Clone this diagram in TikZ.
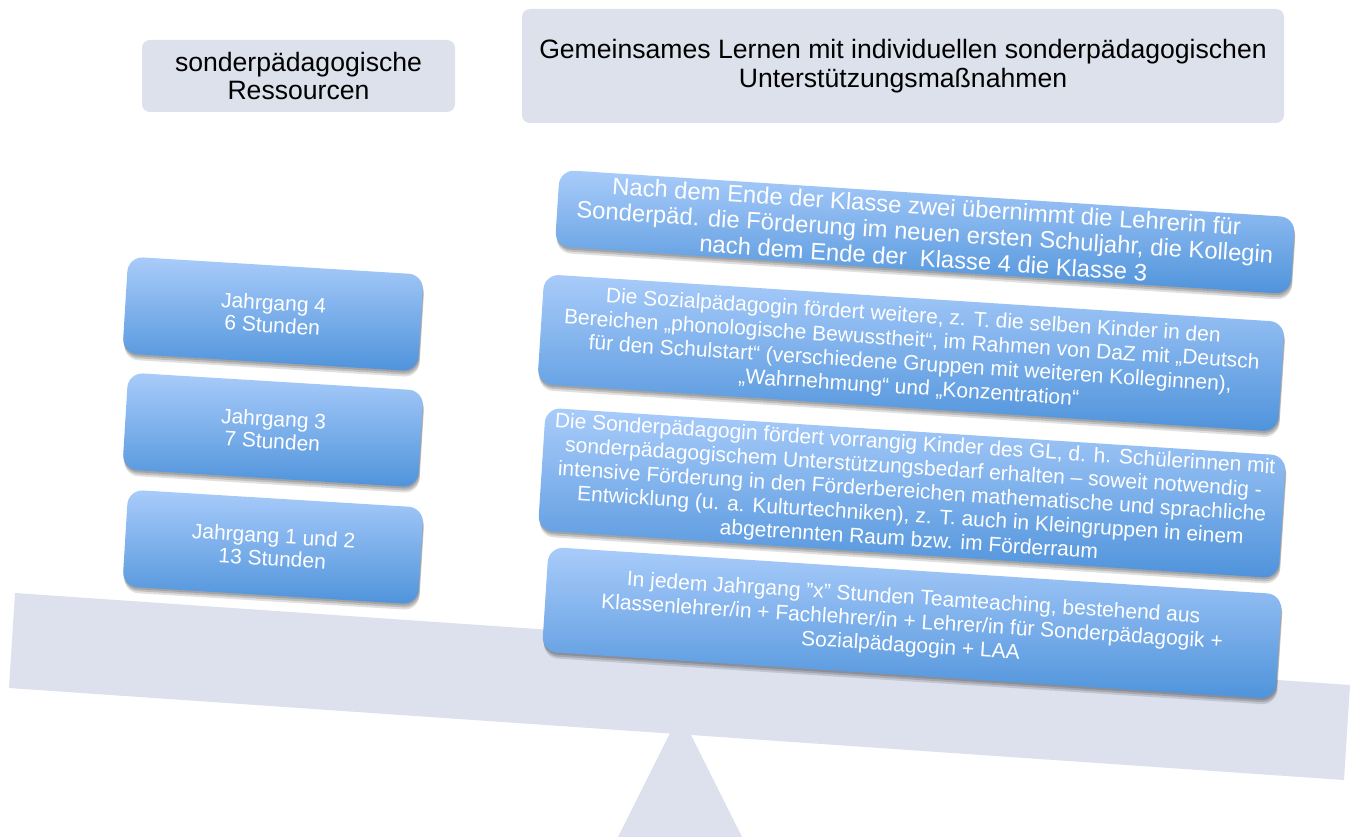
\documentclass[tikz,border=0pt]{standalone}
\usepackage{fontspec}
\setmainfont{Liberation Sans}
\usetikzlibrary{shadows}
\definecolor{beam}{HTML}{DCE1ED}
\definecolor{hdr}{HTML}{DCE1EC}
\definecolor{btop}{HTML}{A9CCFA}
\definecolor{bbot}{HTML}{4F93DB}
\tikzset{
  hdrbox/.style={fill=hdr, rounded corners=8pt, align=center, text=black, inner sep=0pt,
    font=\fontsize{26.6}{28.5}\selectfont},
  bluebox/.style={top color=btop, bottom color=bbot, rounded corners=15pt, align=center,
    text=white, inner sep=0pt,
    drop shadow={shadow xshift=1pt, shadow yshift=-6pt, opacity=0.12, fill=black},
    drop shadow={shadow xshift=1pt, shadow yshift=-4pt, opacity=0.15, fill=black},
    drop shadow={shadow xshift=0.5pt, shadow yshift=-2pt, opacity=0.15, fill=black}},
  leftbox/.style={bluebox, rotate=-3.5, minimum width=296pt, minimum height=97pt,
    font=\fontsize{21}{22.5}\selectfont},
  rightbox/.style={bluebox, rotate=-3.7, font=\fontsize{21}{24}\selectfont},
}
\begin{document}
\begin{tikzpicture}[x=1pt,y=-1pt]
\useasboundingbox (0,0) rectangle (1357,837);
% balance
\fill[beam] (15,593) -- (1350,685) -- (1344,780) -- (9,688) -- cycle;
\fill[beam] (680,713) -- (742,837) -- (618,837) -- cycle;
% headers
\node[hdrbox, minimum width=313pt, minimum height=72pt] (h1) at (298.5,76)
  {sonderpädagogische\\Ressourcen};
\node[hdrbox, minimum width=762pt, minimum height=114pt] (h2) at (903,66)
  {Gemeinsames Lernen mit individuellen sonderpädagogischen\\Unterstützungsmaßnahmen};
% left column
\node[leftbox] (j4) at (273,314) {Jahrgang 4\\6 Stunden};
\node[leftbox] (j3) at (273,430) {Jahrgang 3\\7 Stunden};
\node[leftbox] (j12) at (273,547) {Jahrgang 1 und 2\\13 Stunden};
% right column
\node[rightbox, minimum width=737pt, minimum height=77pt,
      font=\fontsize{23.8}{26}\selectfont] (ra) at (925,232)
  {Nach dem Ende der Klasse zwei übernimmt die Lehrerin für\\
   Sonderpäd. die Förderung im neuen ersten Schuljahr, die Kollegin\\
   nach dem Ende der~ Klasse 4 die Klasse 3};
\node[rightbox, minimum width=742pt, minimum height=110pt] (rb) at (911,353)
  {Die Sozialpädagogin fördert weitere, z. T. die selben Kinder in den\\
   Bereichen „phonologische Bewusstheit“, im Rahmen von DaZ mit „Deutsch\\
   für den Schulstart“ (verschiedene Gruppen mit weiteren Kolleginnen),\\
   „Wahrnehmung“ und „Konzentration“};
\node[rightbox, minimum width=742pt, minimum height=123pt] (rc) at (912,493)
  {Die Sonderpädagogin fördert vorrangig Kinder des GL, d. h. Schülerinnen mit\\
   sonderpädagogischem Unterstützungsbedarf erhalten – soweit notwendig -\\
   intensive Förderung in den Förderbereichen mathematische und sprachliche\\
   Entwicklung (u. a. Kulturtechniken), z. T. auch in Kleingruppen in einem\\
   abgetrennten Raum bzw. im Förderraum};
\node[rightbox, minimum width=735pt, minimum height=105pt] (rd) at (912,623)
  {In jedem Jahrgang \symbol{34}x\symbol{34} Stunden Teamteaching, bestehend aus\\
   Klassenlehrer/in + Fachlehrer/in + Lehrer/in für Sonderpädagogik +\\
   Sozialpädagogin + LAA};
\end{tikzpicture}
\end{document}
